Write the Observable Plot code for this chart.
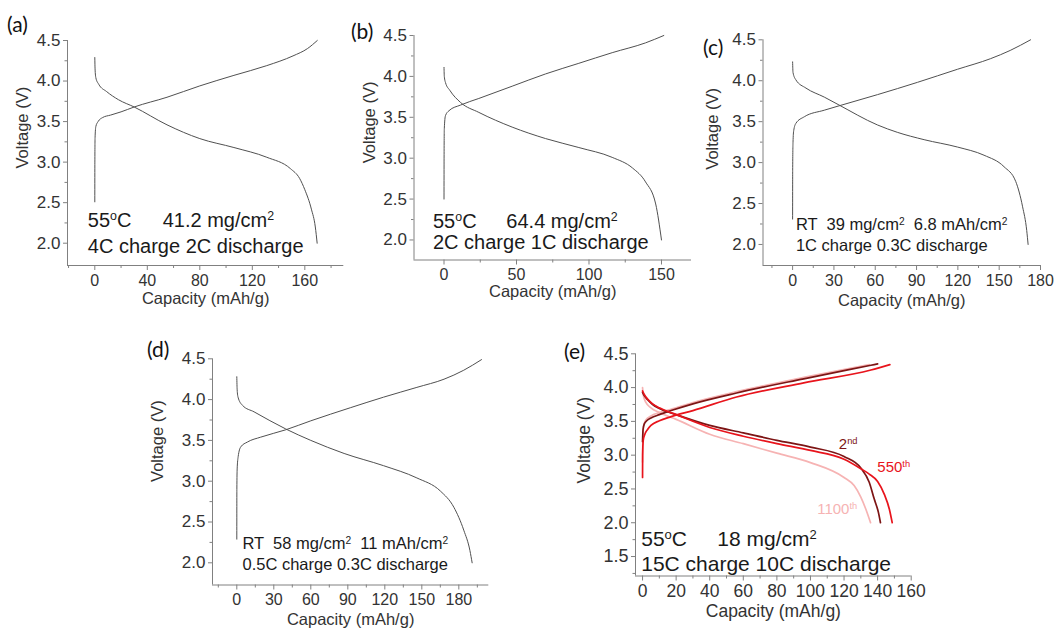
<!DOCTYPE html>
<html><head><meta charset="utf-8">
<script src="https://cdn.jsdelivr.net/npm/d3@7"></script>
<script src="https://cdn.jsdelivr.net/npm/@observablehq/plot@0.6"></script>
<style>
body{margin:0;background:#fff;overflow:hidden;}
#root{position:relative;width:1056px;height:628px;overflow:hidden;background:#fff;font-family:"Liberation Sans",Arial,sans-serif;}
.panel{position:absolute;}
.tag{position:absolute;font-family:Lato,"Liberation Sans",sans-serif;font-size:21px;color:#111;line-height:1;}
</style></head><body><div id="root"></div>
<script>
// ---------- data: [capacity (mAh/g), voltage (V)] ----------
const aCharge = [[0,2.51],[0.05,3.0],[0.2,3.3],[0.8,3.44],[2.5,3.50],[6,3.55],[12,3.58],[20,3.62],[30,3.68],[55,3.80],[80,3.94],[106,4.07],[131,4.19],[151,4.31],[162,4.40],[169.5,4.5]];
const aDischarge = [[0,4.29],[0.2,4.15],[0.8,4.04],[3,3.96],[9,3.87],[18,3.77],[30,3.68],[55,3.46],[80,3.29],[106,3.18],[131,3.06],[149,2.92],[156,2.80],[160,2.66],[165,2.42],[168,2.2],[169.4,2.0]];
const bCharge = [[0,2.50],[0.05,3.0],[0.2,3.36],[1,3.52],[3.4,3.58],[11.5,3.65],[24,3.73],[47,3.88],[70,4.03],[93,4.16],[116,4.29],[139,4.41],[151.6,4.5]];
const bDischarge = [[0,4.11],[0.2,4.0],[1.1,3.92],[4,3.83],[11.5,3.68],[24,3.56],[47,3.38],[70,3.24],[93,3.13],[116,3.01],[130,2.88],[139,2.71],[146,2.44],[150,2.0]];
const cCharge = [[0,2.31],[0.05,2.9],[0.3,3.25],[0.8,3.39],[2.4,3.48],[8.5,3.56],[23,3.64],[33,3.69],[61.6,3.83],[90.6,3.98],[119.7,4.14],[143.8,4.27],[158,4.37],[172.8,4.5]];
const cDischarge = [[0,4.23],[0.3,4.1],[2.4,4.01],[9.7,3.91],[23,3.80],[33,3.71],[61.6,3.46],[76,3.37],[95.5,3.28],[119.7,3.19],[139,3.09],[153.5,2.95],[162,2.77],[167,2.46],[170,2.17],[171,2.0]];
const dCharge = [[0,2.29],[0.05,2.9],[0.3,3.15],[1.1,3.3],[3.2,3.42],[8.6,3.48],[19.4,3.54],[39.7,3.63],[60,3.74],[92,3.90],[119,4.03],[146,4.15],[168,4.25],[184,4.36],[198.4,4.49]];
const dDischarge = [[0,4.28],[0.3,4.12],[1,4.03],[4.6,3.93],[14,3.85],[39.7,3.64],[60,3.50],[87,3.34],[119,3.19],[146,3.04],[165,2.88],[176,2.68],[184,2.40],[189,2.15],[190.8,2.0]];
const e2Charge = [[0,3.2],[0.3,3.38],[1,3.46],[2.5,3.51],[5,3.55],[10,3.6],[17,3.66],[30,3.76],[56,3.92],[96,4.13],[136,4.33],[140,4.35]];
const e550Charge = [[0,2.67],[0.05,3.0],[0.4,3.22],[1.2,3.3],[3,3.38],[5,3.44],[10,3.51],[17,3.57],[30,3.66],[56,3.86],[96,4.07],[136,4.26],[147.3,4.34]];
const e1100Charge = [[0,2.9],[0.2,3.3],[0.8,3.45],[2,3.52],[5,3.58],[10,3.63],[17,3.68],[30,3.78],[56,3.94],[96,4.15],[135,4.34]];
const e2Discharge = [[0,3.93],[1,3.88],[3,3.82],[6,3.75],[10,3.69],[20,3.60],[40,3.44],[60,3.33],[80,3.22],[100,3.12],[120,2.98],[130,2.81],[135,2.6],[138,2.35],[140.5,2.15],[141.7,2.0]];
const e550Discharge = [[0,3.95],[1,3.9],[3,3.83],[6,3.76],[10,3.7],[20,3.6],[40,3.41],[60,3.28],[80,3.17],[100,3.07],[120,2.94],[130,2.80],[135,2.72],[140,2.61],[144,2.42],[147,2.2],[148.7,2.0]];
const e1100Discharge = [[0,4.0],[0.5,3.88],[2,3.78],[5,3.70],[10,3.63],[20,3.53],[40,3.31],[60,3.17],[80,3.03],[100,2.89],[120,2.67],[126,2.55],[130,2.38],[133,2.2],[135.8,2.0]];

// tick labels
const aTicksX = [0,40,80,120,160], aMinorX = [-20,20,60,100,140,180];
const bTicksX = [0,50,100,150], bMinorX = [25,75,125];
const cTicksX = [0,30,60,90,120,150,180], cMinorX = [-15,15,45,75,105,135,165];
const dTicksX = [0,30,60,90,120,150,180], dMinorX = [-15,15,45,75,105,135,165,195];
const eTicksX = [0,20,40,60,80,100,120,140,160], eMinorX = [10,30,50,70,90,110,130,150];
const vTicks = [2.0,2.5,3.0,3.5,4.0,4.5], vMinor = [2.25,2.75,3.25,3.75,4.25];
const eTicksY = [1.5,2.0,2.5,3.0,3.5,4.0,4.5], eMinorY = [1.25,1.75,2.25,2.75,3.25,3.75,4.25];
const cycleNames = ["1100^{th}","2^{nd}","550^{th}"];
const cycleColors = ["#f6b3b3","#7d1515","#e8141c"];

const root = document.getElementById("root");
const fmt = d3.format(".1f");

function supers(svg){
  svg.querySelectorAll("text").forEach(t=>{
    const s = t.textContent;
    if (!s.includes("^{") || t.querySelector("tspan")) return;
    const parts = s.split(/\^\{([^}]*)\}/);
    t.textContent = "";
    parts.forEach((p,i)=>{
      if(!p) return;
      const ts = document.createElementNS("http://www.w3.org/2000/svg","tspan");
      ts.textContent = p;
      if(i%2){ ts.setAttribute("baseline-shift","super"); ts.setAttribute("font-size","62%"); }
      t.appendChild(ts);
    });
  });
}

function panel(o){
  const marks = [
    Plot.ruleX([o.xDomain[0]], {stroke:"#808080", strokeWidth:1}),
    Plot.ruleY([o.yDomain[0]], {stroke:"#808080", strokeWidth:1}),
    Plot.axisX(o.xMajor, {tickSize:5, tickPadding:4, fontSize:o.xFont, label:null, stroke:"#808080", fill:"#333"}),
    Plot.axisX(o.xMinor, {tickSize:3, tickFormat:()=>"", label:null, stroke:"#808080"}),
    Plot.axisY(o.yMajor, {tickSize:4, tickPadding:3, fontSize:o.yFont, label:null, tickFormat:fmt, stroke:"#808080", fill:"#333"}),
    Plot.axisY(o.yMinor, {tickSize:2.5, tickFormat:()=>"", label:null, stroke:"#808080"}),
    ...o.series,
    Plot.text(["Capacity (mAh/g)"], {frameAnchor:"bottom", dy:o.xTitleDy, lineAnchor:"middle", fontSize:o.titleFont, fill:"#333"}),
    Plot.text(["Voltage (V)"], {frameAnchor:"left", dx:o.yTitleDx, dy:o.yTitleDy, rotate:-90, lineAnchor:"middle", fontSize:o.titleFont, fill:"#333"}),
    ...o.texts.map(t=>Plot.text([t], {x:"x", y:"y", text:"t", textAnchor:"start", lineAnchor:"middle", fontSize:t.fs, fill:t.c || "#1a1a1a"}))
  ];
  const svg = Plot.plot({
    width:o.width, height:o.height,
    marginLeft:o.ml, marginRight:o.mr, marginTop:o.mt, marginBottom:o.mb,
    x:{domain:o.xDomain}, y:{domain:o.yDomain},
    style:{fontFamily:'"Liberation Sans",Arial,sans-serif', background:"transparent", overflow:"visible", color:"#333"},
    marks
  });
  supers(svg);
  const div = document.createElement("div");
  div.className = "panel";
  div.style.left = o.left+"px"; div.style.top = o.top+"px";
  div.appendChild(svg);
  root.appendChild(div);
  const tag = document.createElement("div");
  tag.className = "tag"; tag.textContent = o.tag;
  tag.style.left = o.tagX+"px"; tag.style.top = o.tagY+"px";
  root.appendChild(tag);
}

const grayLine = (d)=>Plot.line(d, {x:d=>d[0], y:d=>d[1], stroke:"#505050", strokeWidth:1, curve:"monotone-x"});
const redLine = (d,i)=>Plot.line(d, {x:d=>d[0], y:d=>d[1], stroke:cycleColors[i], strokeWidth:1.7, curve:"monotone-x"});

panel({left:0, top:0, width:345, height:310, ml:67, mr:1.7, mt:40, mb:45,
  xDomain:[-20.8,189.7], yDomain:[1.725,4.5], xMajor:aTicksX, xMinor:aMinorX, yMajor:vTicks, yMinor:vMinor,
  series:[grayLine(aCharge), grayLine(aDischarge)], xFont:16, yFont:17, titleFont:16.5, xTitleDy:33, yTitleDx:-44.5, yTitleDy:15.5,
  texts:[{x:-5.3,y:2.273,t:"55^{o}C",fs:20},{x:51.7,y:2.273,t:"41.2 mg/cm^{2}",fs:20},{x:-5.3,y:1.964,t:"4C charge 2C discharge",fs:20}],
  tag:"(a)", tagX:7, tagY:13});

panel({left:345, top:0, width:350, height:310, ml:68.5, mr:4, mt:35, mb:50.5,
  xDomain:[-20.7,170.7], yDomain:[1.755,4.5], xMajor:bTicksX, xMinor:bMinorX, yMajor:vTicks, yMinor:vMinor,
  series:[grayLine(bCharge), grayLine(bDischarge)], xFont:16, yFont:17, titleFont:16.5, xTitleDy:32, yTitleDx:-44.5, yTitleDy:15.5,
  texts:[{x:-7.6,y:2.229,t:"55^{o}C",fs:20},{x:43,y:2.229,t:"64.4 mg/cm^{2}",fs:20},{x:-7.6,y:1.972,t:"2C charge 1C discharge",fs:20}],
  tag:"(b)", tagX:351, tagY:20});

panel({left:690, top:0, width:366, height:310, ml:72.5, mr:16, mt:39.3, mb:45,
  xDomain:[-21.5,180], yDomain:[1.743,4.5], xMajor:cTicksX, xMinor:cMinorX, yMajor:vTicks, yMinor:vMinor,
  series:[grayLine(cCharge), grayLine(cDischarge)], xFont:16, yFont:17, titleFont:16.5, xTitleDy:35, yTitleDx:-50, yTitleDy:17,
  texts:[{x:2.4,y:2.246,t:"RT  39 mg/cm^{2}  6.8 mAh/cm^{2}",fs:16.5},{x:2.4,y:1.989,t:"1C charge 0.3C discharge",fs:16.5}],
  tag:"(c)", tagX:703, tagY:36});

panel({left:150, top:310, width:360, height:318, ml:62, mr:21.7, mt:48.3, mb:43.5,
  xDomain:[-19.7,204.3], yDomain:[1.728,4.5], xMajor:dTicksX, xMinor:dMinorX, yMajor:vTicks, yMinor:vMinor,
  series:[grayLine(dCharge), grayLine(dDischarge)], xFont:16, yFont:17, titleFont:16.5, xTitleDy:35, yTitleDx:-54.5, yTitleDy:10,
  texts:[{x:4.6,y:2.234,t:"RT  58 mg/cm^{2}  11 mAh/cm^{2}",fs:16.5},{x:4.6,y:1.977,t:"0.5C charge 0.3C discharge",fs:16.5}],
  tag:"(d)", tagX:147, tagY:338});

panel({left:560, top:310, width:380, height:318, ml:75, mr:29.3, mt:43.3, mb:52.5,
  xDomain:[-4.2,160], yDomain:[1.212,4.5], xMajor:eTicksX, xMinor:eMinorX, yMajor:eTicksY, yMinor:eMinorY,
  series:[redLine(e1100Charge,0), redLine(e1100Discharge,0), redLine(e2Charge,1), redLine(e2Discharge,1), redLine(e550Charge,2), redLine(e550Discharge,2)],
  xFont:17.5, yFont:18, titleFont:17.5, xTitleDy:35, yTitleDx:-51, yTitleDy:18.5,
  texts:[{x:-0.8,y:1.762,t:"55^{o}C",fs:21},{x:44.5,y:1.762,t:"18 mg/cm^{2}",fs:21},{x:-0.8,y:1.392,t:"15C charge 10C discharge",fs:21},
         {x:116.9,y:3.164,t:cycleNames[1],fs:15,c:cycleColors[1]},{x:139.8,y:2.818,t:cycleNames[2],fs:15,c:cycleColors[2]},{x:104,y:2.203,t:cycleNames[0],fs:15,c:cycleColors[0]}],
  tag:"(e)", tagX:564, tagY:340});
</script></body></html>
